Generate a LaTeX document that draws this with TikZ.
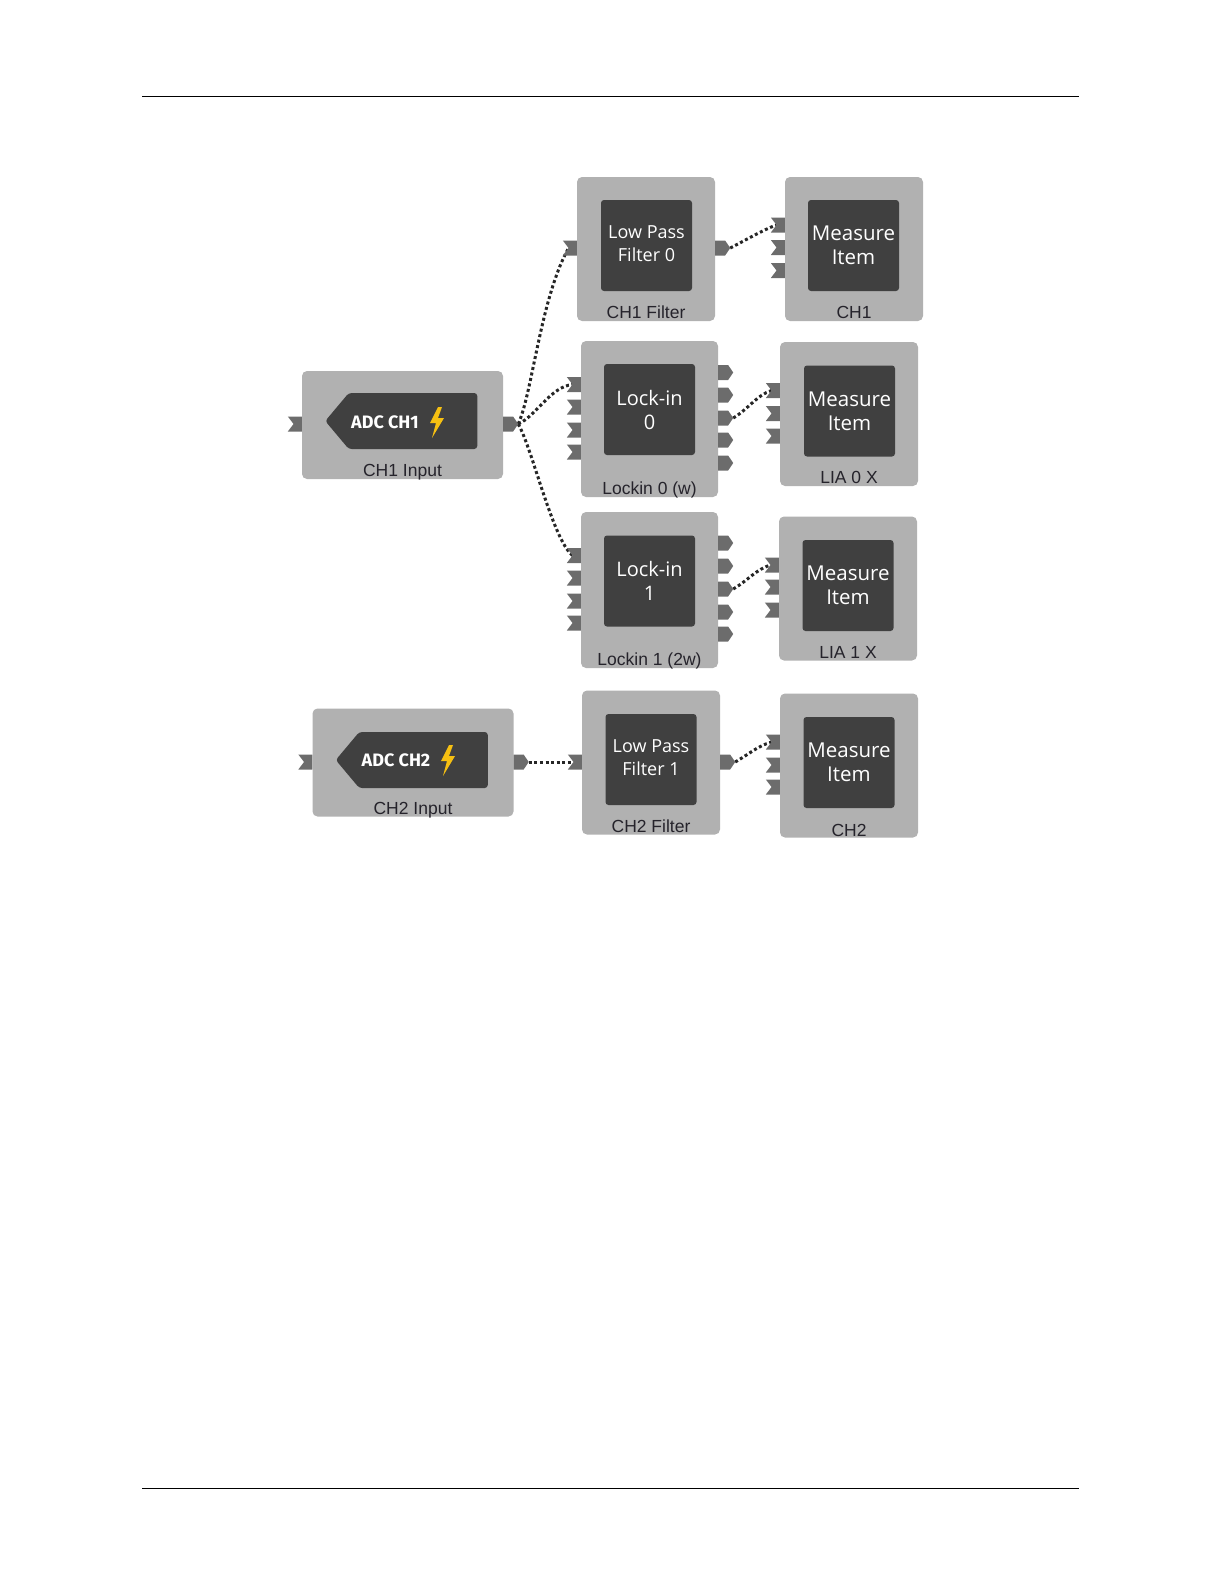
\documentclass[tikz,border=0pt]{standalone}
\usepackage{fontspec}
\setmainfont{Liberation Sans}
\newfontfamily\corefont{Open Sans}
\newfontfamily\adcfont{Fira Sans}
\usetikzlibrary{shapes.symbols,positioning,backgrounds}
\definecolor{blockgray}{HTML}{B1B1B1}
\definecolor{coregray}{HTML}{404040}
\definecolor{portgray}{HTML}{6C6C6C}
\definecolor{boltyellow}{HTML}{F6C012}
\definecolor{capink}{HTML}{25232B}

\begin{document}
\begin{tikzpicture}[x=1pt,y=-1pt,
 block/.style={fill=blockgray,rounded corners=5pt,inner sep=0pt,minimum width=138pt,minimum height=144pt},
 wide/.style={block,minimum width=201pt,minimum height=108pt},
 tall/.style={block,minimum width=137pt,minimum height=156pt},
 core/.style={fill=coregray,text=white,rounded corners=3pt,inner sep=0pt,minimum width=91pt,minimum height=91pt,align=center},
 meas/.style={core,font=\corefont\fontsize{20.5}{24}\selectfont},
 lpf/.style={core,text depth=4pt,font=\corefont\fontsize{18}{23}\selectfont},
 lock/.style={core,font=\corefont\fontsize{20}{24}\selectfont},
 adc/.style={signal,signal to=west,signal from=nowhere,signal pointer angle=100,fill=coregray,rounded corners=3pt,inner sep=0pt,minimum width=152pt,minimum height=56pt},
 adctxt/.style={text=white,inner sep=0pt,font=\adcfont\bfseries\fontsize{18}{20}\selectfont},
 lbl/.style={text=capink,inner sep=0pt,font=\fontsize{17.5}{20}\selectfont},
 portin/.style={signal,signal from=west,signal to=nowhere,signal pointer angle=105,fill=portgray,inner sep=0pt,outer sep=0pt,minimum width=14pt,minimum height=15pt,anchor=east},
 portout/.style={signal,signal to=east,signal from=nowhere,signal pointer angle=112,fill=portgray,inner sep=0pt,outer sep=0pt,minimum width=15pt,minimum height=15pt,anchor=west},
 wire/.style={black!85,line width=3pt,dash pattern=on 3pt off 2.6pt},
 bolt/.pic={\fill[boltyellow] (0,-15)--(-8,1)--(-2,1)--(-6,16)--(6,-4)--(0,-4)--(4,-15)--cycle;}]
\useasboundingbox (0,0) rectangle (1224,1584);
\draw[line width=0.8pt] (142,96)--(1079,96);
\draw[line width=0.8pt] (142,1488)--(1079,1488);
% first input
\node[wide] (b1) at (402.5,425) {};
\node[adc] (a1) at (413,421) {};
\node[adctxt] (t1) at (385,422) {ADC CH1};
\pic at (438,422) {bolt};
\node[lbl,above=-1pt of b1.south] (c1) {CH1 Input};
\node[portin] (b1i) at (b1.west |- 0,424) {};
\node[portout] (b1o) at (b1.east |- 0,424) {};
% second input
\node[wide] (b2) at (413,762.5) {};
\node[adc] (a2) at (423.5,760) {};
\node[adctxt] (t2) at (396,760) {ADC CH2};
\pic at (449,760) {bolt};
\node[lbl,above=-2pt of b2.south] (c2) {CH2 Input};
\node[portin] (b2i) at (b2.west |- 0,762) {};
\node[portout] (b2o) at (b2.east |- 0,762) {};
% filters
\node[block] (f0) at (646,249) {};
\node[lpf] (k0) at (646.5,245.5) {Low Pass\\Filter 0};
\node[lbl,above=2pt of f0.south] (d0) {CH1 Filter};
\node[portin] (f0i) at (f0.west |- 0,248) {};
\node[portout] (f0o) at (f0.east |- 0,248) {};
\node[block] (f1) at (651,762.5) {};
\node[lpf] (k1) at (651,759.5) {Low Pass\\Filter 1};
\node[lbl,above=2pt of f1.south] (d1) {CH2 Filter};
\node[portin] (f1i) at (f1.west |- 0,762) {};
\node[portout] (f1o) at (f1.east |- 0,762) {};
% lock-ins
\node[tall] (l0) at (649.5,419) {};
\node[lock] (s0) at (649.5,409.5) {Lock-in\\0};
\node[lbl,above=-1pt of l0.south] (e0) {Lockin 0 (w)};
\foreach \y [count=\i] in {384.5,407,430,452} \node[portin] (l0i\i) at (l0.west |- 0,\y) {};
\foreach \y [count=\i] in {372.5,395,418,440,463} \node[portout] (l0o\i) at (l0.east |- 0,\y) {};
\node[tall] (l1) at (649.5,590) {};
\node[lock] (s1) at (649.5,581) {Lock-in\\1};
\node[lbl,above=-1pt of l1.south] (e1) {Lockin 1 (2w)};
\foreach \y [count=\i] in {555.5,578,601,623} \node[portin] (l1i\i) at (l1.west |- 0,\y) {};
\foreach \y [count=\i] in {543,566,589,612,634} \node[portout] (l1o\i) at (l1.east |- 0,\y) {};
% measure items
\node[block] (m0) at (854,249) {};
\node[meas] (q0) at (853.5,245.5) {Measure\\Item};
\node[lbl,above=2pt of m0.south] (g0) {CH1};
\foreach \y [count=\i] in {225,247.5,270.5} \node[portin] (m0i\i) at (m0.west |- 0,\y) {};
\node[block] (m1) at (849,414) {};
\node[meas] (q1) at (849.5,411) {Measure\\Item};
\node[lbl,above=2pt of m1.south] (g1) {LIA 0 X};
\foreach \y [count=\i] in {390.5,413.5,436} \node[portin] (m1i\i) at (m1.west |- 0,\y) {};
\node[block] (m2) at (848,588.5) {};
\node[meas] (q2) at (848,585.5) {Measure\\Item};
\node[lbl,above=2pt of m2.south] (g2) {LIA 1 X};
\foreach \y [count=\i] in {565,587,610} \node[portin] (m2i\i) at (m2.west |- 0,\y) {};
\node[block] (m3) at (849,765.5) {};
\node[meas] (q3) at (849,762.5) {Measure\\Item};
\node[lbl,above=1pt of m3.south] (g3) {CH2};
\foreach \y [count=\i] in {742,765,787} \node[portin] (m3i\i) at (m3.west |- 0,\y) {};
% connectors go under the ports
\begin{scope}[on background layer]
\draw[wire] (b1o.east) .. controls +(14,-30) and +(-28,50) .. (f0i.west);
\draw[wire] (b1o.east) .. controls +(18,-8) and +(-22,2) .. (l0i1.west);
\draw[wire] (b1o.east) .. controls +(14,24) and +(-20,-16) .. (l1i1.west);
\draw[wire] (f0o.east) .. controls +(12,-6) and +(-12,4) .. (m0i1.west);
\draw[wire] (l0o3.east) .. controls +(14,-8) and +(-14,4) .. (m1i1.west);
\draw[wire] (l1o3.east) .. controls +(14,-8) and +(-14,4) .. (m2i1.west);
\draw[wire] (b2o.east) -- (f1i.west);
\draw[wire] (f1o.east) .. controls +(14,-8) and +(-14,4) .. (m3i1.west);
\end{scope}
\end{tikzpicture}
\end{document}
